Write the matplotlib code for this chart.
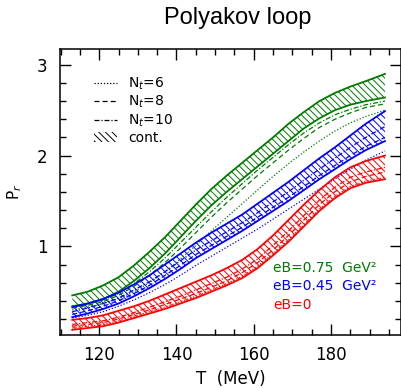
import numpy as np
import matplotlib
matplotlib.use("Agg")
import matplotlib.pyplot as plt
from matplotlib.lines import Line2D
from matplotlib.patches import Patch

T = [113, 117, 121, 125, 129, 133, 137, 141, 145, 149, 153,
     157, 161, 165, 169, 173, 177, 181, 185, 189, 194]

# eB = 0.75 GeV^2 (green)
g_up  = [0.46, 0.50, 0.57, 0.66, 0.79, 0.94, 1.10, 1.28, 1.46, 1.63, 1.78,
         1.92, 2.06, 2.20, 2.35, 2.48, 2.60, 2.69, 2.76, 2.82, 2.90]
g_low = [0.34, 0.37, 0.42, 0.50, 0.62, 0.76, 0.92, 1.10, 1.28, 1.45, 1.60,
         1.74, 1.88, 2.02, 2.16, 2.30, 2.41, 2.50, 2.56, 2.60, 2.64]
g_nt10 = [0.33, 0.36, 0.41, 0.48, 0.59, 0.72, 0.87, 1.04, 1.21, 1.38, 1.54,
          1.69, 1.84, 1.98, 2.12, 2.25, 2.36, 2.45, 2.51, 2.56, 2.60]
g_nt8 = [0.32, 0.35, 0.39, 0.46, 0.56, 0.68, 0.82, 0.98, 1.15, 1.32, 1.48,
         1.63, 1.78, 1.92, 2.06, 2.19, 2.31, 2.40, 2.47, 2.53, 2.57]
g_nt6 = [0.30, 0.33, 0.37, 0.42, 0.50, 0.60, 0.72, 0.86, 1.01, 1.17, 1.32,
         1.47, 1.62, 1.77, 1.91, 2.04, 2.16, 2.27, 2.36, 2.43, 2.50]

# eB = 0.45 GeV^2 (blue)
b_up  = [0.33, 0.37, 0.42, 0.49, 0.58, 0.68, 0.80, 0.92, 1.04, 1.15, 1.25,
         1.35, 1.47, 1.59, 1.71, 1.84, 1.97, 2.09, 2.22, 2.35, 2.49]
b_low = [0.22, 0.26, 0.31, 0.37, 0.45, 0.54, 0.64, 0.75, 0.87, 0.97, 1.07,
         1.17, 1.28, 1.39, 1.50, 1.62, 1.74, 1.85, 1.96, 2.06, 2.16]
b_nt10 = [0.28, 0.32, 0.37, 0.43, 0.52, 0.61, 0.72, 0.84, 0.96, 1.06, 1.16,
          1.26, 1.37, 1.49, 1.60, 1.73, 1.85, 1.97, 2.09, 2.20, 2.32]
b_nt8 = [0.25, 0.29, 0.34, 0.40, 0.48, 0.57, 0.68, 0.79, 0.91, 1.01, 1.11,
         1.21, 1.32, 1.43, 1.54, 1.66, 1.78, 1.89, 2.00, 2.10, 2.20]
b_nt6 = [0.21, 0.24, 0.28, 0.34, 0.41, 0.49, 0.58, 0.68, 0.79, 0.89, 0.99,
         1.09, 1.19, 1.30, 1.41, 1.52, 1.63, 1.74, 1.85, 1.95, 2.05]

# eB = 0 (red)
r_up  = [0.19, 0.21, 0.24, 0.29, 0.34, 0.40, 0.47, 0.54, 0.61, 0.68, 0.76,
         0.85, 0.97, 1.12, 1.29, 1.46, 1.62, 1.76, 1.87, 1.94, 2.00]
r_low = [0.08, 0.10, 0.12, 0.16, 0.21, 0.26, 0.31, 0.37, 0.43, 0.50, 0.57,
         0.65, 0.76, 0.90, 1.05, 1.22, 1.39, 1.53, 1.64, 1.70, 1.74]
r_nt10 = [0.14, 0.16, 0.18, 0.22, 0.27, 0.33, 0.39, 0.45, 0.52, 0.59, 0.66,
          0.75, 0.86, 1.01, 1.17, 1.34, 1.51, 1.65, 1.76, 1.82, 1.87]
r_nt8 = [0.12, 0.14, 0.16, 0.20, 0.25, 0.30, 0.36, 0.42, 0.48, 0.55, 0.62,
         0.71, 0.82, 0.96, 1.12, 1.29, 1.46, 1.60, 1.71, 1.77, 1.82]
r_nt6 = [0.10, 0.12, 0.14, 0.18, 0.23, 0.28, 0.33, 0.39, 0.45, 0.52, 0.59,
         0.67, 0.78, 0.92, 1.07, 1.24, 1.41, 1.55, 1.66, 1.72, 1.76]

labels = ["eB=0.75  GeV²", "eB=0.45  GeV²", "eB=0"]
colors = ["#007a00", "#0000ff", "#ff0000"]

plt.rcParams['hatch.linewidth'] = 0.7
HATCH = '\\' * 5

fig = plt.figure(figsize=(4.02, 3.88), dpi=100)
ax = fig.add_axes([0.149, 0.137, 0.848, 0.738])

bands = [(g_up, g_low, g_nt6, g_nt8, g_nt10),
         (b_up, b_low, b_nt6, b_nt8, b_nt10),
         (r_up, r_low, r_nt6, r_nt8, r_nt10)]

for (up, low, n6, n8, n10), c in zip(bands, colors):
    ax.fill_between(T, low, up, facecolor='none', edgecolor=c,
                    hatch=HATCH, linewidth=0)
    ax.plot(T, up, color=c, lw=1.3)
    ax.plot(T, low, color=c, lw=1.3)
    ax.plot(T, n6, color=c, lw=0.9, ls=(0, (1, 1.5)))
    ax.plot(T, n8, color=c, lw=0.9, ls=(0, (4, 2.5)))
    ax.plot(T, n10, color=c, lw=0.9, ls=(0, (4, 1.5, 1, 1.5)))

ax.set_xlim(109.8, 198.1)
ax.set_ylim(0.025, 3.18)
ax.set_xticks([120, 140, 160, 180])
ax.set_xticks(np.arange(110, 199, 5), minor=True)
ax.set_yticks([1, 2, 3])
ax.set_yticks(np.arange(0.2, 3.15, 0.2), minor=True)
ax.tick_params(which='both', direction='in', top=True, right=True, width=1)
ax.tick_params(which='major', length=8, labelsize=12)
ax.tick_params(which='minor', length=4)
ax.tick_params(axis='x', which='major', pad=8)
ax.tick_params(axis='y', which='major', pad=9)
for s in ax.spines.values():
    s.set_linewidth(1.1)

ax.set_xlabel("T  (MeV)", fontsize=12, labelpad=4.5)
ax.set_ylabel("P$_r$", fontsize=11, labelpad=9)

for i, (lab, c) in enumerate(zip(labels, colors)):
    ax.text(0.626, 0.233 - i * 0.064, lab, color=c, fontsize=10,
            transform=ax.transAxes, va='center', ha='left')

handles = [Line2D([], [], color='k', lw=0.9, ls=(0, (1, 1.5))),
           Line2D([], [], color='k', lw=0.9, ls=(0, (4, 2.5))),
           Line2D([], [], color='k', lw=0.9, ls=(0, (4, 1.5, 1, 1.5))),
           Patch(facecolor='none', edgecolor='k', hatch=HATCH, lw=0)]
ax.legend(handles, ["N$_t$=6", "N$_t$=8", "N$_t$=10", "cont."],
          loc='upper left', bbox_to_anchor=(0.079, 0.93), frameon=False,
          fontsize=10, handlelength=1.65, handletextpad=0.85,
          labelspacing=0.15, borderpad=0)

fig.text(0.592, 0.953, "Polyakov loop", fontsize=17, ha='center', va='center',
         family='Liberation Sans')

fig.savefig("out.png", dpi=100)
